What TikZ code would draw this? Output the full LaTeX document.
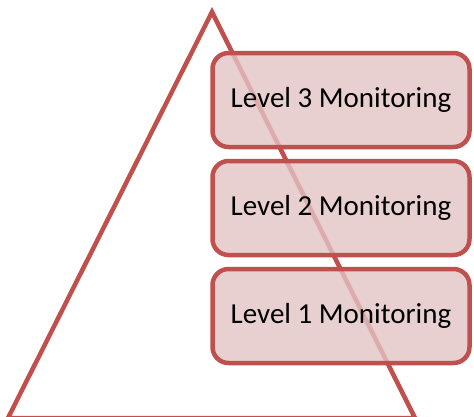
\documentclass[tikz,border=0pt]{standalone}
\usepackage{fontspec}
\setmainfont{Carlito}
\definecolor{linered}{RGB}{192,80,77}
\definecolor{boxfill}{RGB}{226,196,196}
\tikzset{
  level/.style={draw=linered, line width=4.5pt, rounded corners=16pt,
    fill=boxfill, fill opacity=0.8, text opacity=1,
    minimum width=257pt, minimum height=94pt,
    font=\fontsize{29}{34}\selectfont}
}
\begin{document}
\begin{tikzpicture}[x=1pt,y=-1pt]
      \useasboundingbox (0,0) rectangle (474,416);
      \coordinate (top) at (212,12);
      \coordinate (left) at (8,418);
      \coordinate (right) at (415,418);
      \draw[linered, line width=4.5pt, line join=miter] (top) -- (left) -- (right) -- cycle;
      \node[level] (l3) at (341,100) {Level 3 Monitoring};
      \node[level] (l2) at (341,208) {Level 2 Monitoring};
      \node[level] (l1) at (341,316) {Level 1 Monitoring};
    \end{tikzpicture}
\end{document}
